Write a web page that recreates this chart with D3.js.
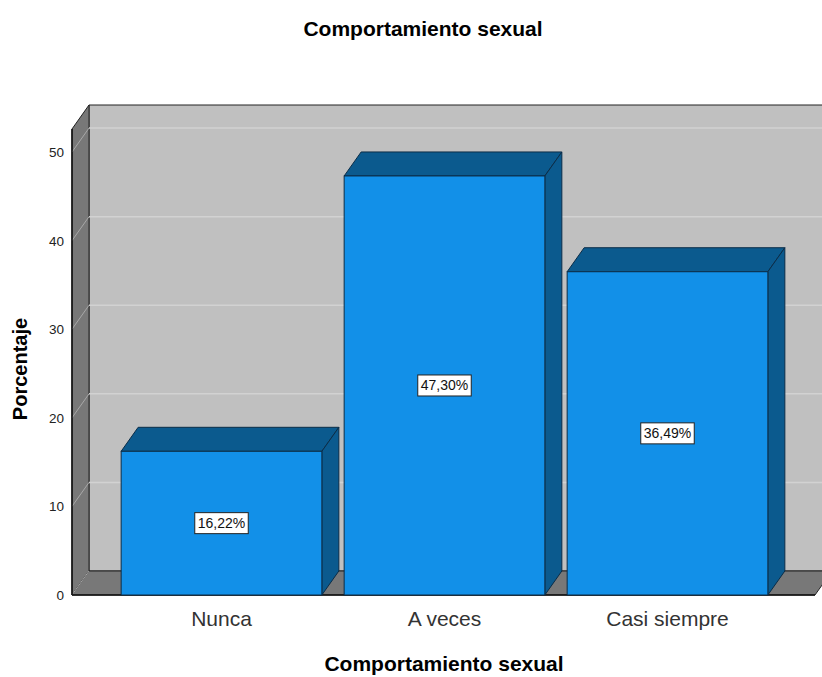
<!DOCTYPE html>
<html lang="es">
<head>
<meta charset="UTF-8">
<style>
    body { margin: 0; padding: 0; background: #fff; overflow: hidden; }
    svg { display: block; font-family: Arial, "Liberation Sans", sans-serif; }
</style>
</head>
<body>
<svg id="chart" width="822" height="677"></svg>
<script src="https://cdnjs.cloudflare.com/ajax/libs/d3/7.8.5/d3.min.js"></script>
<script>
const categories = ["Nunca", "A veces", "Casi siempre"];
const percentages = [16.22, 47.30, 36.49];
const yTicks = [0, 10, 20, 30, 40, 50];
const chartTitle = "Comportamiento sexual";
const xTitle = "Comportamiento sexual";
const yTitle = "Porcentaje";

const svg = d3.select("#chart");

// front plane geometry + depth offset
const plotLeft = 72, plotRight = 815, plotBottom = 595, plotTop = 129;
const dx = 17, dy = -24;

const y = d3.scaleLinear().domain([0, 52.6]).range([plotBottom, plotTop]);
const x = d3.scaleBand().domain(categories).range([110, 779])
    .paddingInner(0.1).paddingOuter(0.05);

const pts = a => a.map(p => p.join(",")).join(" ");

// back wall
svg.append("polygon")
    .attr("points", pts([[plotLeft + dx, plotTop + dy], [plotRight + dx + 40, plotTop + dy], [plotRight + dx + 40, plotBottom + dy], [plotLeft + dx, plotBottom + dy]]))
    .attr("fill", "#c0c0c0").attr("stroke", "#222").attr("stroke-width", 1);

// left side wall
svg.append("polygon")
    .attr("points", pts([[plotLeft, plotBottom], [plotLeft, plotTop], [plotLeft + dx, plotTop + dy], [plotLeft + dx, plotBottom + dy]]))
    .attr("fill", "#787878").attr("stroke", "#222").attr("stroke-width", 1);

// floor
svg.append("polygon")
    .attr("points", pts([[plotLeft, plotBottom], [plotRight, plotBottom], [plotRight + dx, plotBottom + dy], [plotLeft + dx, plotBottom + dy]]))
    .attr("fill", "#787878").attr("stroke", "#222").attr("stroke-width", 1);

// grid lines on back wall and side wall
const grid = svg.append("g");
yTicks.filter(t => t > 0).forEach(t => {
    grid.append("line")
        .attr("x1", plotLeft + dx).attr("x2", 822)
        .attr("y1", y(t) + dy).attr("y2", y(t) + dy)
        .attr("stroke", "#d2d2d2").attr("stroke-width", 1.5);
    grid.append("line")
        .attr("x1", plotLeft).attr("x2", plotLeft + dx)
        .attr("y1", y(t)).attr("y2", y(t) + dy)
        .attr("stroke", "#a8a8a8").attr("stroke-width", 1);
});
grid.append("line")
    .attr("x1", plotLeft).attr("x2", plotLeft + dx)
    .attr("y1", y(0)).attr("y2", y(0) + dy)
    .attr("stroke", "#a8a8a8").attr("stroke-width", 1);

// axis lines
svg.append("line").attr("x1", plotLeft).attr("x2", plotLeft).attr("y1", plotTop).attr("y2", plotBottom)
    .attr("stroke", "#111").attr("stroke-width", 1.5);
svg.append("line").attr("x1", plotLeft).attr("x2", plotRight).attr("y1", plotBottom).attr("y2", plotBottom)
    .attr("stroke", "#111").attr("stroke-width", 1.5);

// y tick labels
svg.append("g").selectAll("text").data(yTicks).join("text")
    .attr("x", 64).attr("y", d => y(d) + 5)
    .attr("text-anchor", "end").attr("font-size", 13.5).attr("fill", "#222")
    .text(d => d);

// bars
const bars = svg.append("g").selectAll("g").data(categories).join("g");
const bw = x.bandwidth();
bars.append("polygon") // top
    .attr("points", (d, i) => {
        const x0 = x(d), yt = y(percentages[i]);
        return pts([[x0, yt], [x0 + dx, yt + dy], [x0 + bw + dx, yt + dy], [x0 + bw, yt]]);
    })
    .attr("fill", "#0b5a8e").attr("stroke", "#0b2d48").attr("stroke-width", 1);
bars.append("polygon") // side
    .attr("points", (d, i) => {
        const x1 = x(d) + bw, yt = y(percentages[i]);
        return pts([[x1, yt], [x1 + dx, yt + dy], [x1 + dx, y(0) + dy], [x1, y(0)]]);
    })
    .attr("fill", "#0b5a8e").attr("stroke", "#0b2d48").attr("stroke-width", 1);
bars.append("rect") // front
    .attr("x", d => x(d))
    .attr("y", (d, i) => y(percentages[i]))
    .attr("width", bw)
    .attr("height", (d, i) => y(0) - y(percentages[i]))
    .attr("fill", "#1290e8").attr("stroke", "#0b2d48").attr("stroke-width", 1);

// value labels
const fmt = v => v.toFixed(2).replace(".", ",") + "%";
bars.each(function (d, i) {
    const g = d3.select(this);
    const cx = x(d) + bw / 2;
    const cy = (y(percentages[i]) + y(0)) / 2;
    const t = g.append("text")
        .attr("x", cx).attr("y", cy + 5)
        .attr("text-anchor", "middle").attr("font-size", 14).attr("fill", "#111")
        .text(fmt(percentages[i]));
    const w = t.node().getComputedTextLength() + 6;
    g.insert("rect", "text")
        .attr("x", cx - w / 2).attr("y", cy - 10.5)
        .attr("width", w).attr("height", 21)
        .attr("fill", "#fff").attr("stroke", "#222").attr("stroke-width", 1);
});

// category labels
svg.append("g").selectAll("text").data(categories).join("text")
    .attr("x", d => x(d) + bw / 2).attr("y", 626)
    .attr("text-anchor", "middle").attr("font-size", 21).attr("fill", "#333")
    .text(d => d);

// titles
svg.append("text").attr("x", 423).attr("y", 36)
    .attr("text-anchor", "middle").attr("font-size", 21).attr("font-weight", "bold")
    .text(chartTitle);
svg.append("text").attr("x", 444).attr("y", 671)
    .attr("text-anchor", "middle").attr("font-size", 21).attr("font-weight", "bold")
    .text(xTitle);
svg.append("text").attr("transform", "translate(27,369) rotate(-90)")
    .attr("text-anchor", "middle").attr("font-size", 20).attr("font-weight", "bold")
    .text(yTitle);
</script>
</body>
</html>
